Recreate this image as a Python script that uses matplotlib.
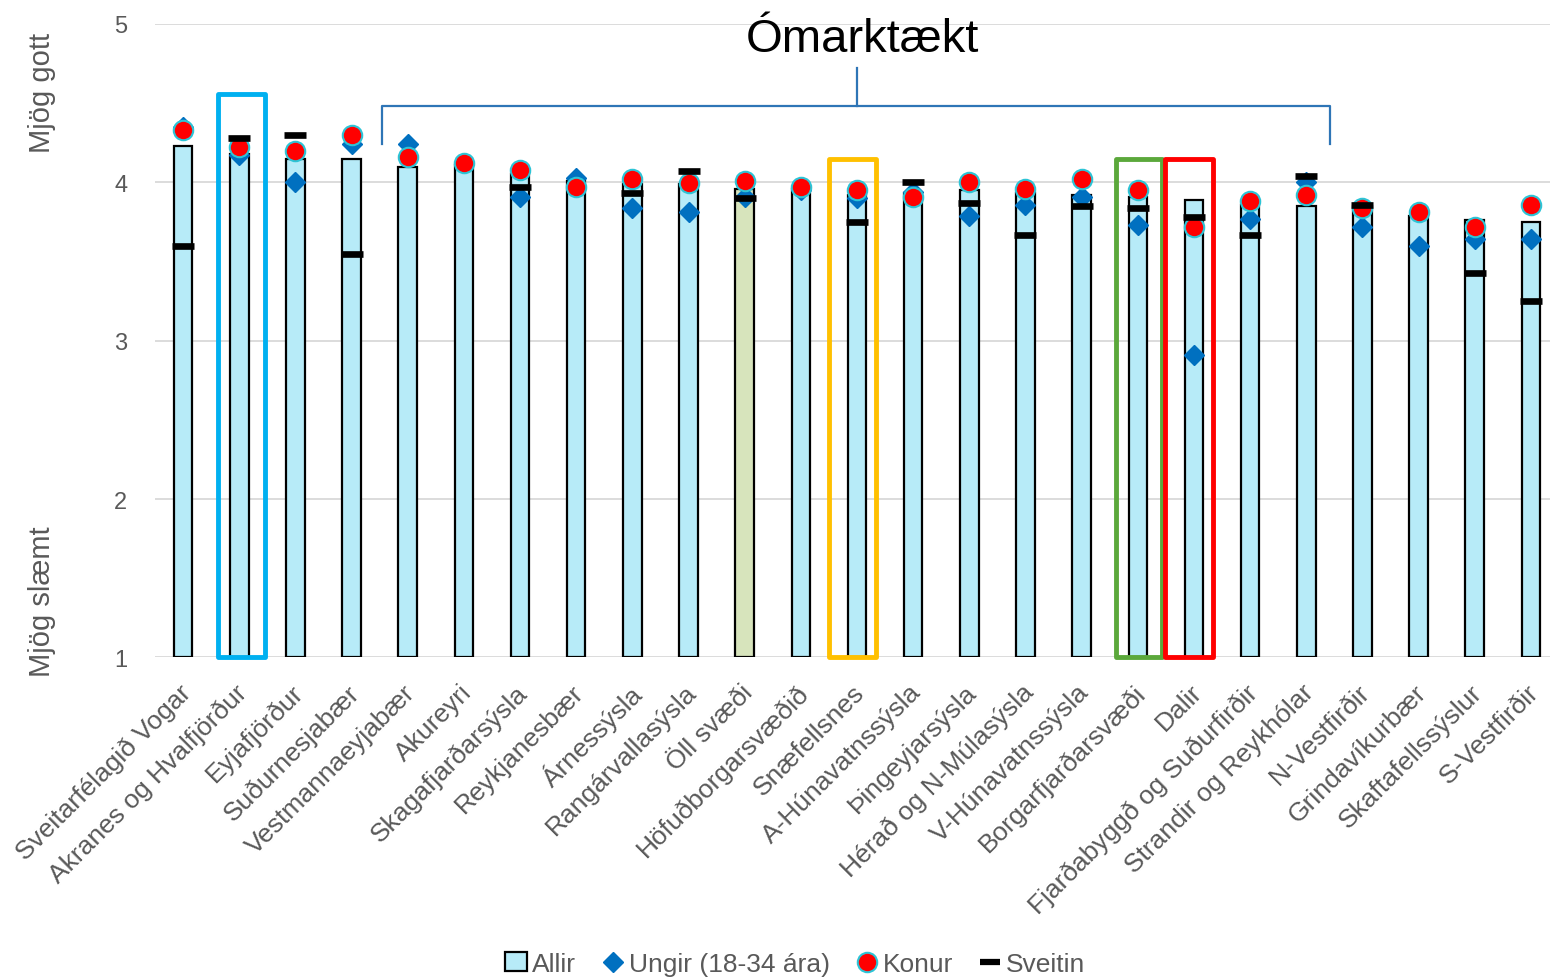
import numpy as np
import matplotlib
matplotlib.use("Agg")
import matplotlib.pyplot as plt
from matplotlib.lines import Line2D
from matplotlib.patches import Patch, Rectangle

plt.rcParams["font.family"] = ["Liberation Sans", "DejaVu Sans"]

# --- data ---
svaedi = [
    "Sveitarfélagið Vogar", "Akranes og Hvalfjörður", "Eyjafjörður", "Suðurnesjabær",
    "Vestmannaeyjabær", "Akureyri", "Skagafjarðarsýsla", "Reykjanesbær", "Árnessýsla",
    "Rangárvallasýsla", "Öll svæði", "Höfuðborgarsvæðið", "Snæfellsnes",
    "A-Húnavatnssýsla", "Þingeyjarsýsla", "Hérað og N-Múlasýsla", "V-Húnavatnssýsla",
    "Borgarfjarðarsvæði", "Dalir", "Fjarðabyggð og Suðurfirðir", "Strandir og Reykhólar",
    "N-Vestfirðir", "Grindavíkurbær", "Skaftafellssýslur", "S-Vestfirðir",
]
allir = [4.23, 4.18, 4.15, 4.15, 4.10, 4.11, 4.05, 4.01, 3.99, 3.99, 3.96, 3.96, 3.92,
         3.93, 3.95, 3.93, 3.92, 3.91, 3.89, 3.86, 3.85, 3.85, 3.79, 3.76, 3.75]
ungir = [4.35, 4.17, 4.00, 4.24, 4.24, 4.12, 3.91, 4.03, 3.84, 3.81, 3.91, 3.95, 3.90,
         3.94, 3.79, 3.86, 3.91, 3.73, 2.91, 3.77, 4.00, 3.72, 3.60, 3.64, 3.64]
konur = [4.33, 4.22, 4.20, 4.30, 4.16, 4.12, 4.075, 3.97, 4.02, 3.995, 4.01, 3.97, 3.95,
         3.91, 4.00, 3.96, 4.02, 3.95, 3.72, 3.885, 3.92, 3.84, 3.81, 3.72, 3.86]
sveitin = [3.60, 4.28, 4.30, 3.55, np.nan, np.nan, 3.97, np.nan, 3.93, 4.07, 3.90, np.nan,
           3.75, 4.00, 3.87, 3.67, 3.85, 3.84, 3.78, 3.67, 4.04, 3.86, np.nan, 3.43, 3.25]

heild = "Öll svæði"
ytick_vals = [1, 2, 3, 4, 5]
title_text = "Ómarktækt"

# highlighted regions: (category, left, right, top, colour)
highlights = [
    ("Akranes og Hvalfjörður", -0.38, 0.46, 4.56, "#00B0F0"),
    ("Snæfellsnes", -0.50, 0.34, 4.15, "#FFC000"),
    ("Borgarfjarðarsvæði", -0.39, 0.43, 4.15, "#5BA83B"),
    ("Dalir", -0.52, 0.34, 4.15, "#FF0000"),
]

BAR_COL = "#B7EBF8"
HEILD_COL = "#D7E4BC"
GRAY = "#595959"

x = np.arange(len(svaedi))
fig = plt.figure(figsize=(15.5, 9.79), dpi=100)
ax = fig.add_axes([0.1, 0.3274, 0.9058, 0.6471])

colors = [HEILD_COL if s == heild else BAR_COL for s in svaedi]
ax.bar(x, np.array(allir) - 1, bottom=1, width=0.33, color=colors,
       edgecolor="black", linewidth=1.6, zorder=2)
ax.plot(x, ungir, linestyle="none", marker="D", markersize=10,
        color="#0070C0", zorder=3)
ax.plot(x, konur, linestyle="none", marker="o", markersize=14,
        markerfacecolor="#FF0000", markeredgecolor="#2DC4D6",
        markeredgewidth=1.5, zorder=4)
ax.plot(x, sveitin, linestyle="none", marker="_", markersize=16,
        markeredgewidth=4.8, color="black", zorder=5)

# coloured boxes
for name, lft, rgt, top, col in highlights:
    i = svaedi.index(name)
    ax.add_patch(Rectangle((i + lft, 1.0), rgt - lft, top - 1.0, fill=False,
                           edgecolor=col, linewidth=3.5, zorder=6, clip_on=False,
                           joinstyle="round"))

# bracket for non-significant group
br_col = "#2E75B6"
bl, brr, bm = 3.54, 20.42, 12.0
ax.plot([bl, bl, brr, brr], [4.24, 4.48, 4.48, 4.24], color=br_col, lw=1.6,
        clip_on=False, zorder=6)
ax.plot([bm, bm], [4.48, 4.72], color=br_col, lw=1.6, clip_on=False, zorder=6)
ax.text(bm + 0.1, 4.83, title_text, ha="center", va="baseline", fontsize=34,
        color="black", zorder=7)

ax.set_xlim(-0.5, len(svaedi) - 0.5)
ax.set_ylim(1, 5)
ax.set_yticks(ytick_vals)
ax.set_yticklabels([str(v) for v in ytick_vals], fontsize=17, color=GRAY)
ax.yaxis.grid(True, color="#D9D9D9", linewidth=1.3, zorder=0)
ax.set_axisbelow(True)
for sp in ax.spines.values():
    sp.set_visible(False)
ax.tick_params(axis="y", length=0, pad=20)
ax.tick_params(axis="x", length=0, pad=16)

ax.set_xticks(x - 0.08)
ax.set_xticklabels(svaedi, rotation=45, ha="right", va="top",
                   rotation_mode="anchor", fontsize=19, color=GRAY)

fig.text(0.027, 0.905, "Mjög gott", rotation=90, ha="center", va="center",
         fontsize=21, color=GRAY)
fig.text(0.027, 0.385, "Mjög slæmt", rotation=90, ha="center", va="center",
         fontsize=21, color=GRAY)

handles = [
    Patch(facecolor=BAR_COL, edgecolor="black", linewidth=1.6),
    Line2D([], [], linestyle="none", marker="D", markersize=10, color="#0070C0"),
    Line2D([], [], linestyle="none", marker="o", markersize=14,
           markerfacecolor="#FF0000", markeredgecolor="#2DC4D6", markeredgewidth=1.5),
    Line2D([], [], linestyle="none", marker="_", markersize=15,
           markeredgewidth=4.5, color="black"),
]
labels = ["Allir", "Ungir (18-34 ára)", "Konur", "Sveitin"]
leg = fig.legend(handles, labels, loc="lower center", bbox_to_anchor=(0.513, -0.022),
                 ncol=4, frameon=False, fontsize=19, handlelength=0.8,
                 handletextpad=0.2, columnspacing=1.0)
for t in leg.get_texts():
    t.set_color(GRAY)

fig.savefig("out.png", dpi=100)
